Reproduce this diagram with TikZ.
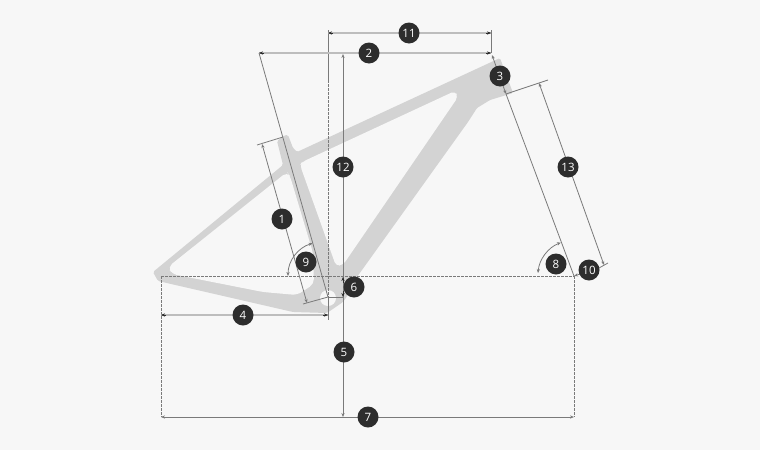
\documentclass[tikz,border=0pt]{standalone}
\usepackage{fontspec}
\setsansfont{Open Sans}
\usetikzlibrary{arrows.meta}
\definecolor{paper}{HTML}{F7F7F7}
\definecolor{frame}{HTML}{D3D3D3}
\definecolor{badge}{HTML}{2D2D2D}
\definecolor{dimline}{HTML}{7A7A7A}
\definecolor{thickline}{HTML}{BDBDBD}
\tikzset{
	num/.style={circle,fill=badge,text=white,inner sep=0pt,minimum size=21pt,font=\sffamily\fontsize{11.5}{12}\selectfont},
	thin dim/.style={draw=dimline,line width=0.8pt},
	wide dim/.style={draw=thickline,line width=1.5pt},
	guide/.style={draw=dimline,line width=0.7pt,dash pattern=on 2.5pt off 1.5pt},
	tips/.style={{Stealth[length=4pt,width=3.2pt]}-{Stealth[length=4pt,width=3.2pt]}},
	tip/.style={draw=badge,line width=0.5pt,-{Stealth[length=4pt,width=3.2pt]}}
}
\begin{document}
\begin{tikzpicture}[x=1pt,y=-1pt]
	\useasboundingbox[fill=paper] (0,0) rectangle (760,450);
	% frame
	\fill[frame,rounded corners=1.5pt] (277,141) -- (285,135) -- (288,135) -- (293,148) -- (297,152) -- (500,58)
		-- (513,93) -- (490,100) -- (477,108) -- (468,122) -- (357,277) -- (350,292) -- (343,302) -- (327,313)
		-- (293,312) -- (158,281) -- (153,272) -- (283,165) -- cycle;
	\fill[paper,rounded corners=4pt] (300,165) -- (302,162) -- (455,91) -- (458,97) -- (343,265) -- (336,266) -- cycle;
	\fill[paper,rounded corners=5pt] (287,172) -- (290,176) -- (313,253) -- (314,284) -- (297,295) -- (263,292)
		-- (172,274) -- (168,267) -- cycle;
	\fill[paper] (328,298) circle (8);
	% reference points
	\path (259,53)  coordinate (seatTop);
	\path (328,297) coordinate (bb);
	\path (491,53)  coordinate (headTop);
	\path (574,276) coordinate (axle);
	\path (161,276) coordinate (rear);
	\path (328,30)  coordinate (reachTop);
	\path (328,33)  coordinate (reachA);
	\path (491,33)  coordinate (reachB);
	\path (491,30)  coordinate (headBar);
	\path (328,80)  coordinate (solidEnd);
	\path (328,320) coordinate (bbLow);
	\path (161,315) coordinate (wheelA);
	\path (328,315) coordinate (wheelB);
	\path (161,417) coordinate (baseA);
	\path (574,417) coordinate (baseB);
	\path (343,54)  coordinate (stackTop);
	\path (343,417) coordinate (stackLow);
	\path (343,277) coordinate (dropA);
	\path (343,297) coordinate (dropB);
	\path (262,144) coordinate (seatA);
	\path (307,303) coordinate (seatB);
	\path (257,145) coordinate (seatC);
	\path (283,137) coordinate (seatD);
	\path (303,304) coordinate (seatE);
	\path (506,94)  coordinate (headA);
	\path (548,80)  coordinate (headB);
	\path (539,83)  coordinate (forkA);
	\path (604,265) coordinate (forkB);
	\path (608,263) coordinate (forkC);
	\path (599,268) coordinate (forkD);
	\path (492,55)  coordinate (headC);
	% guides
	\draw[guide] (rear) -- (axle);
	\draw[guide] (rear) -- (baseA);
	\draw[guide] (axle) -- (baseB);
	\draw[guide] (solidEnd) -- (bb);
	\draw[thin dim] (reachTop) -- (solidEnd);
	\draw[thin dim] (bb) -- (bbLow);
	\draw[thin dim] (headBar) -- (headTop);
	% dimensions
	\foreach \a/\b in {reachA/reachB,seatTop/headTop,wheelA/wheelB} {
		\draw[wide dim] (\a) -- (\b);
		\draw[tip] (\a) ++(5,0) -- (\a);
		\draw[tip] (\b) ++(-5,0) -- (\b);
	}
	\draw[thin dim,tips] (baseA) -- (baseB);
	\draw[thin dim] (seatTop) -- (bb);
	\draw[thin dim,tips] (stackTop) -- (stackLow);
	\draw[tip] (dropA) ++(0,6) -- (dropA);
	\draw[tip] (dropB) ++(0,-6) -- (dropB);
	\draw[thin dim] (bb) -- (dropB);
	\draw[thin dim,tips] (seatA) -- (seatB);
	\draw[thin dim] (seatC) -- (seatD);
	\draw[thin dim] (seatE) -- (bb);
	\draw[thin dim,tips] (headC) -- (headA);
	\draw[thin dim] (headA) -- (axle);
	\draw[thin dim] (headA) -- (headB);
	\draw[thin dim,tips] (forkA) -- (forkB);
	\draw[thin dim] (forkC) -- (forkD);
	\draw[thin dim,tips] (axle) -- (forkD);
	\draw[thin dim,tips] (538,273) arc[start angle=-175,end angle=-111,radius=36];
	\draw[thin dim,tips] (288,276) arc[start angle=-180,end angle=-106,radius=34];
	% numbers
	\path (282,219) node[num] (n1)  {1};
	\path (369,53)  node[num] (n2)  {2};
	\path (500,76)  node[num] (n3)  {3};
	\path (243,315) node[num] (n4)  {4};
	\path (344,352) node[num] (n5)  {5};
	\path (354,287) node[num] (n6)  {6};
	\path (368,417) node[num] (n7)  {7};
	\path (556,264) node[num] (n8)  {8};
	\path (306,262) node[num] (n9)  {9};
	\path (589,270) node[num] (n10) {10};
	\path (409,33)  node[num] (n11) {11};
	\path (343,167) node[num] (n12) {12};
	\path (568,167) node[num] (n13) {13};
\end{tikzpicture}
\end{document}
